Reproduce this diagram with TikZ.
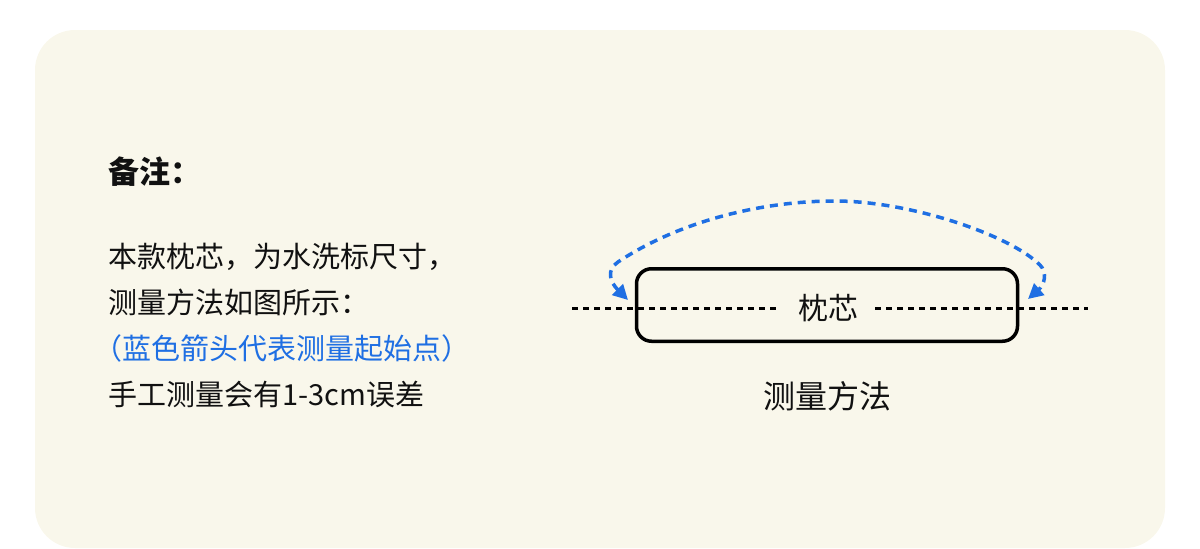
\documentclass[tikz,border=0pt]{standalone}
\usepackage{fontspec}
\setmainfont{Noto Sans CJK SC}
\usetikzlibrary{arrows.meta,positioning}
\definecolor{notebg}{HTML}{F9F7EB}
\definecolor{markblue}{HTML}{1F6FE3}
\definecolor{inkblack}{HTML}{111111}
\newcommand{\halfp}[1]{{\addfontfeature{RawFeature=+halt}#1}}

\begin{document}
\begin{tikzpicture}[x=1pt, y=-1pt, node distance=46pt]
    \tikzstyle{heading} = [font=\fontsize{31}{31}\selectfont\bfseries, text=inkblack, inner sep=0pt, anchor=west]
    \tikzstyle{note} = [font=\fontsize{29}{29}\selectfont, text=inkblack, inner sep=0pt, anchor=west]
    \tikzstyle{pillow} = [rectangle, draw=black, line width=3.5pt, rounded corners=15pt, minimum width=381pt, minimum height=72.5pt]
    \tikzstyle{core} = [font=\fontsize{30}{30}\selectfont, text=inkblack, inner xsep=17pt, inner ysep=0pt]
    \tikzstyle{caption} = [font=\fontsize{32}{32}\selectfont, text=inkblack, inner sep=0pt]
    \tikzstyle{midline} = [line width=3pt, dash pattern=on 6pt off 5pt]
    \tikzstyle{measure} = [markblue, line width=3.5pt, dash pattern=on 8pt off 6pt, {Triangle[length=15pt,width=15pt]}-{Triangle[length=15pt,width=15pt]}]

    % Panel
    \useasboundingbox (0,0) rectangle (1200,549);
    \fill[notebg, rounded corners=40pt] (35,30) rectangle (1165,548);

    % Notes
    \node [heading] (title) at (108,171.5) {备注：};
    \node [note, below=85pt of title.west, anchor=west] (line1) {本款枕芯，为水洗标尺寸，};
    \node [note, below=of line1.west, anchor=west] (line2) {测量方法如图所示：};
    \node [note, below=of line2.west, anchor=west, text=markblue] (line3) {\halfp{（}蓝色箭头代表测量起始点\halfp{）}};
    \node [note, below=of line3.west, anchor=west] (line4) {手工测量会有1-3cm误差};

    % Pillow
    \node [pillow] (pillow) at (827,305) {};
    \node [core] (core) at (828,308) {枕芯};
    \node [caption, below=38pt of pillow] (method) {测量方法};

    \coordinate (dotl) at (572,308);
    \coordinate (dotr) at (1088,308);
    \draw [midline] (dotl) -- (core);
    \draw [midline] (core) -- (dotr);

    % Start points
    \coordinate (lefttip) at (628,300);
    \coordinate (righttip) at (1028,299);
    \draw [measure] (lefttip) .. controls (610,282) and (606,270) .. (618,262)
        .. controls (678,222) and (760,201) .. (835,201)
        .. controls (910,201) and (1010,235) .. (1040,265)
        .. controls (1048,273) and (1044,285) .. (righttip);
\end{tikzpicture}
\end{document}
